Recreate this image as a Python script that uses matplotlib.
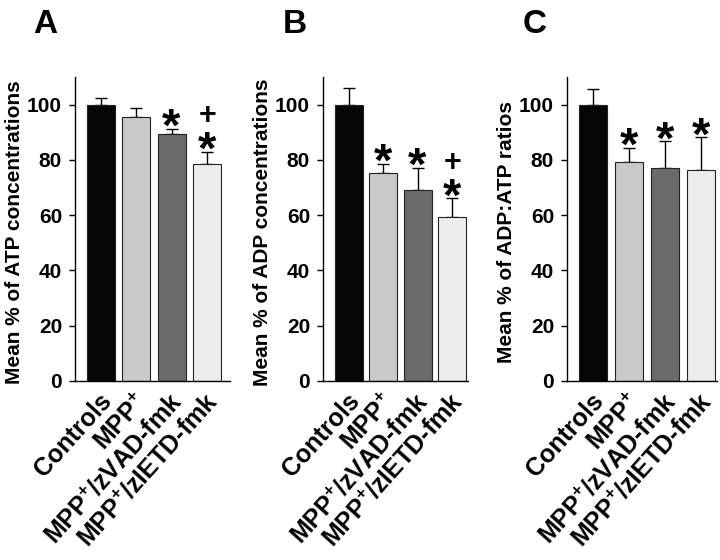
import numpy as np
import matplotlib
matplotlib.use("Agg")
import matplotlib.pyplot as plt
import matplotlib.transforms as mtransforms

plt.rcParams['font.family'] = ['Liberation Sans', 'DejaVu Sans']
plt.rcParams['font.weight'] = 'bold'
plt.rcParams['mathtext.fontset'] = 'custom'
plt.rcParams['mathtext.rm'] = 'Liberation Sans:bold'
plt.rcParams['mathtext.bf'] = 'Liberation Sans:bold'
plt.rcParams['mathtext.it'] = 'Liberation Sans:bold'

# data
groups = ["Controls", "MPP$^{+}$", "MPP$^{+}$/zVAD-fmk", "MPP$^{+}$/zIETD-fmk"]
colors = ["#050505", "#c9c9c9", "#6a6a6a", "#ececec"]

atp_mean = [100, 95.5, 89.2, 78.6]
atp_err = [2.5, 3.2, 2.0, 4.4]
atp_marks = ["", "", "*", "+*"]

adp_mean = [100, 75.4, 69.0, 59.3]
adp_err = [6.0, 3.3, 8.2, 6.8]
adp_marks = ["", "*", "*", "+*"]

ratio_mean = [99.7, 79.4, 77.2, 76.2]
ratio_err = [5.8, 5.0, 9.6, 12.0]
ratio_marks = ["", "*", "*", "*"]

panels = [
    ("A", atp_mean, atp_err, atp_marks, "Mean % of ATP concentrations"),
    ("B", adp_mean, adp_err, adp_marks, "Mean % of ADP concentrations"),
    ("C", ratio_mean, ratio_err, ratio_marks, "Mean % of ADP:ATP ratios"),
]

# layout in pixels: left spine, first bar centre, bar spacing, right end, letter x
geom = [(75, 101, 35.3, 230, 33), (323, 348.5, 34.5, 468, 283), (567, 593, 36, 717, 523)]

W, H = 720, 560
fig = plt.figure(figsize=(W / 100, H / 100), dpi=100)
y_bot, y_top = 381, 77
shift = mtransforms.ScaledTranslation(-2 / 100, 0, fig.dpi_scale_trans)

for (letter, mean, err, marks, ylab), (L, c0, s, R, lx) in zip(panels, geom):
    ax = fig.add_axes([L / W, 1 - y_bot / H, (R - L) / W, (y_bot - y_top) / H])
    x = np.arange(len(groups))
    ax.bar(x, mean, width=28 / s, color=colors, edgecolor="#222222", linewidth=0.8, zorder=2)
    ax.errorbar(x, mean, yerr=[np.zeros(len(err)), err], fmt="none", ecolor="black",
                elinewidth=1, capsize=4, capthick=1, zorder=1)
    ax.set_xlim((L - c0) / s, (R - c0) / s)
    ax.set_ylim(0, 110)
    ax.set_yticks([0, 20, 40, 60, 80, 100])
    ax.tick_params(axis="y", labelsize=15, length=4.3, width=1, pad=5)
    ax.set_xticks(x)
    ax.set_xticklabels(groups, rotation=48, ha="right", va="top", rotation_mode="anchor",
                       fontsize=18, fontweight="bold")
    ax.tick_params(axis="x", length=0, pad=6)
    for lab in ax.get_xticklabels():
        lab.set_transform(lab.get_transform() + shift)
    for lab in ax.get_yticklabels():
        lab.set_fontweight("bold")
    for sp in ["top", "right"]:
        ax.spines[sp].set_visible(False)
    ax.spines["left"].set_linewidth(1)
    ax.spines["bottom"].set_linewidth(1)
    ax.set_ylabel(ylab, fontsize=15, fontweight="bold")
    ax.yaxis.set_label_coords(-51 / (R - L), 0.49)

    for xi, m, e, mk in zip(x, mean, err, marks):
        if "*" in mk:
            ax.annotate("$*$", (xi, m + e), xytext=(0, -8), textcoords="offset points",
                        ha="center", va="baseline", fontsize=34)
        if "+" in mk:
            ax.annotate("$+$", (xi, m + e), xytext=(0, 21), textcoords="offset points",
                        ha="center", va="baseline", fontsize=22)

    fig.text(lx / W, 1 - 33 / H, letter, fontsize=24, fontweight="bold", va="baseline", ha="left")

fig.savefig("out.png", dpi=100)
